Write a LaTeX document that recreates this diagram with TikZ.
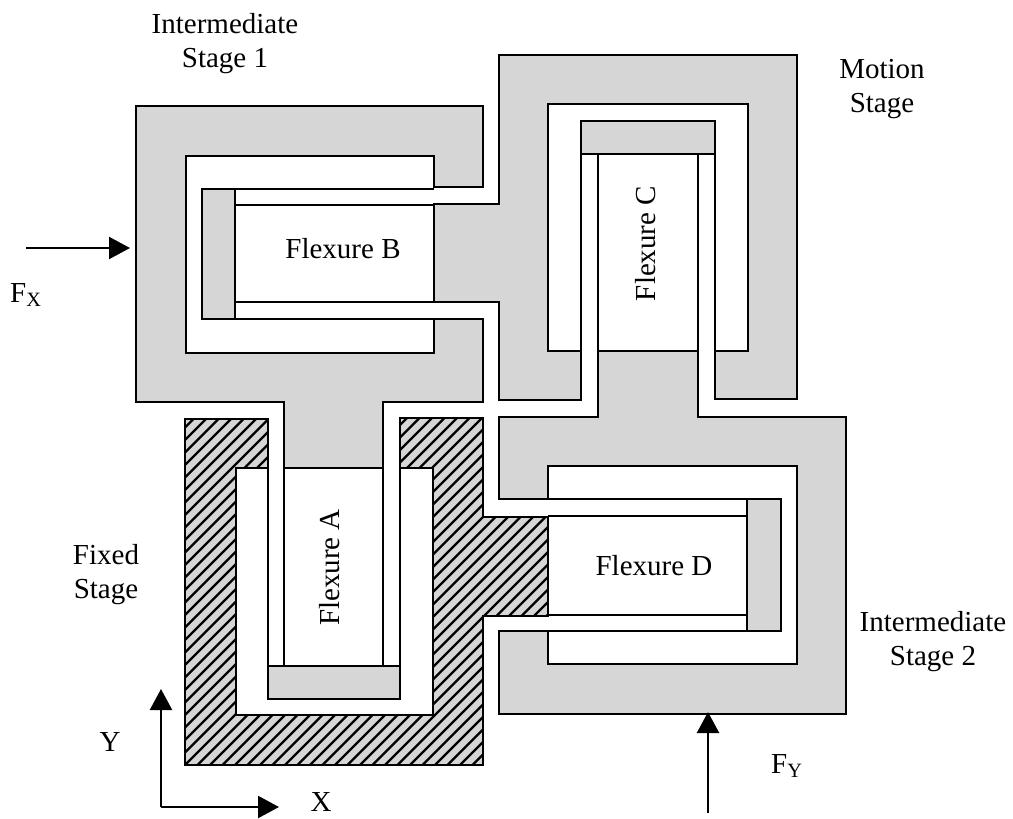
\documentclass[tikz,border=0pt]{standalone}
\usepackage{fontspec}
\setmainfont{Liberation Serif}
\usetikzlibrary{arrows.meta}
\tikzset{
  stage/.style={draw=black,fill=stagegray,line width=2.1pt,line join=miter},
  fixedfill/.style={fill=stagegray},
  outline/.style={draw=black,line width=2.1pt,line join=miter},
  beam/.style={draw=black,line width=2.1pt},
  hatchline/.style={draw=black,line width=2.2pt},
  force/.style={draw=black,line width=2.3pt,-{Triangle[length=21pt,width=22pt]}},
  label/.style={font=\fontsize{29pt}{34pt}\selectfont,align=center,inner sep=0pt,text=black},
  flex/.style={font=\fontsize{29pt}{30pt}\selectfont,inner sep=0pt,text=black}
}
\definecolor{stagegray}{gray}{0.84}
\begin{document}
\begin{tikzpicture}[x=1pt,y=-1pt]
\useasboundingbox (0,0) rectangle (1013,819);
% Intermediate stage 1
\draw[stage] (136,106) -- (483,106) -- (483,187) -- (434,187) -- (434,156) -- (186,156) -- (186,353) -- (434,353) -- (434,319) -- (483,319) -- (483,402) -- (383,402) -- (383,468) -- (284,468) -- (284,402) -- (136,402) -- cycle;
% Motion stage
\draw[stage] (499,55) -- (797,55) -- (797,399) -- (715,399) -- (715,351) -- (748,351) -- (748,104) -- (548,104) -- (548,351) -- (581,351) -- (581,400) -- (499,400) -- (499,302) -- (434,302) -- (434,204) -- (499,204) -- cycle;
% Intermediate stage 2
\draw[stage] (499,417) -- (598,417) -- (598,351) -- (698,351) -- (698,417) -- (846,417) -- (846,714) -- (499,714) -- (499,631) -- (548,631) -- (548,664) -- (797,664) -- (797,466) -- (548,466) -- (548,499) -- (499,499) -- cycle;
% Fixed stage
\def\fixedpath{(185,419) -- (268,419) -- (268,468) -- (236,468) -- (236,715) -- (433,715) -- (433,468) -- (400,468) -- (400,418) -- (483,418) -- (483,517) -- (548,517) -- (548,616) -- (483,616) -- (483,765) -- (185,765) -- cycle}
\fill[fixedfill] \fixedpath;
\begin{scope}
  \clip \fixedpath;
  \foreach \h in {-200,-187.5,...,1400}
    \draw[hatchline] (\h,800) -- ++(600,-600);
\end{scope}
\draw[outline] \fixedpath;
% Rigid blocks
\draw[stage] (202,189) rectangle (235,319);
\draw[stage] (581,121) rectangle (715,154);
\draw[stage] (268,666) rectangle (400,699);
\draw[stage] (747,499) rectangle (781,631);
% Flexure B beams
\draw[beam] (235,189) -- (434,189);
\draw[beam] (235,205) -- (434,205);
\draw[beam] (235,302) -- (434,302);
\draw[beam] (235,319) -- (434,319);
% Flexure C beams
\draw[beam] (581,154) -- (581,351);
\draw[beam] (598,154) -- (598,351);
\draw[beam] (698,154) -- (698,351);
\draw[beam] (715,154) -- (715,351);
% Flexure A beams
\draw[beam] (268,468) -- (268,666);
\draw[beam] (284,468) -- (284,666);
\draw[beam] (383,468) -- (383,666);
\draw[beam] (400,468) -- (400,666);
% Flexure D beams
\draw[beam] (548,499) -- (747,499);
\draw[beam] (548,516) -- (747,516);
\draw[beam] (548,615) -- (747,615);
\draw[beam] (548,631) -- (747,631);
% Flexure labels
\node[flex] (flexB) at (343,249) {Flexure B};
\node[flex,rotate=90] (flexC) at (646,243.5) {Flexure C};
\node[flex,rotate=90] (flexA) at (329.5,567.5) {Flexure A};
\node[flex] (flexD) at (654,566) {Flexure D};
% Stage labels
\node[label] (s1) at (225,44) {Intermediate\\Stage 1};
\node[label] (ms) at (882,89) {Motion\\Stage};
\node[label] (fs) at (106,574.5) {Fixed\\Stage};
\node[label] (s2) at (933,642) {Intermediate\\Stage 2};
% Force labels
\node[label,anchor=base west] (fx) at (10,302) {F\textsubscript{X}};
\node[label,anchor=base west] (fy) at (771,773) {F\textsubscript{Y}};
\node[label] (ylab) at (110,742) {Y};
\node[label] (xlab) at (321,802) {X};
% Arrows
\coordinate (fxs) at (26,248);
\coordinate (fxe) at (130,248);
\coordinate (fys) at (708,813);
\coordinate (fye) at (708,712);
\coordinate (org) at (161,807);
\coordinate (ye) at (161,689);
\coordinate (xe) at (279,807);
\draw[force] (fxs) -- (fxe);
\draw[force] (fys) -- (fye);
\draw[force] (org) -- (ye);
\draw[force] (org) -- (xe);
\end{tikzpicture}
\end{document}
